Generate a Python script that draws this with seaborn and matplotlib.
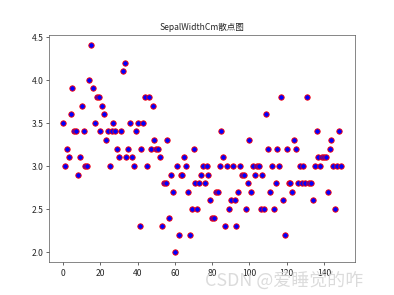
import matplotlib
matplotlib.use("Agg")
import matplotlib.pyplot as plt
import seaborn as sns
import pandas as pd

sepal_width = [
    3.5, 3.0, 3.2, 3.1, 3.6, 3.9, 3.4, 3.4, 2.9, 3.1,
    3.7, 3.4, 3.0, 3.0, 4.0, 4.4, 3.9, 3.5, 3.8, 3.8,
    3.4, 3.7, 3.6, 3.3, 3.4, 3.0, 3.4, 3.5, 3.4, 3.2,
    3.1, 3.4, 4.1, 4.2, 3.1, 3.2, 3.5, 3.1, 3.0, 3.4,
    3.5, 2.3, 3.2, 3.5, 3.8, 3.0, 3.8, 3.2, 3.7, 3.3,
    3.2, 3.2, 3.1, 2.3, 2.8, 2.8, 3.3, 2.4, 2.9, 2.7,
    2.0, 3.0, 2.2, 2.9, 2.9, 3.1, 3.0, 2.7, 2.2, 2.5,
    3.2, 2.8, 2.5, 2.8, 2.9, 3.0, 2.8, 3.0, 2.9, 2.6,
    2.4, 2.4, 2.7, 2.7, 3.0, 3.4, 3.1, 2.3, 3.0, 2.5,
    2.6, 3.0, 2.6, 2.3, 2.7, 3.0, 2.9, 2.9, 2.5, 2.8,
    3.3, 2.7, 3.0, 2.9, 3.0, 3.0, 2.5, 2.9, 2.5, 3.6,
    3.2, 2.7, 3.0, 2.5, 2.8, 3.2, 3.0, 3.8, 2.6, 2.2,
    3.2, 2.8, 2.8, 2.7, 3.3, 3.2, 2.8, 3.0, 2.8, 3.0,
    2.8, 3.8, 2.8, 2.8, 2.6, 3.0, 3.4, 3.1, 3.0, 3.1,
    3.1, 3.1, 2.7, 3.2, 3.3, 3.0, 2.5, 3.0, 3.4, 3.0,
]
index = list(range(len(sepal_width)))
title = "SepalWidthCm散点图"
watermark = "CSDN @爱睡觉的咋"

sns.set_style("ticks")
plt.rcParams['font.family'] = ['Noto Sans CJK SC', 'DejaVu Sans']
plt.rcParams['axes.unicode_minus'] = False

df = pd.DataFrame({"idx": index, "SepalWidthCm": sepal_width})

fig, ax = plt.subplots(figsize=(6.4, 4.8), dpi=394 / 6.4)
sns.scatterplot(data=df, x="idx", y="SepalWidthCm", ax=ax,
                color="blue", edgecolor="red", linewidth=1.0, s=40)
ax.set_title(title, fontsize=10)
ax.set_xlabel("")
ax.set_ylabel("")
ax.set_yticks([2.0, 2.5, 3.0, 3.5, 4.0, 4.5])
ax.set_xticks(range(0, 141, 20))
for s in ax.spines.values():
    s.set_visible(True)
    s.set_color("#555555")
ax.tick_params(labelsize=10)

fig.text(0.52, 0.018, watermark, fontsize=21, color="#d8d8d8", alpha=0.9,
         ha="left", va="bottom")

fig.savefig("out.png", dpi=394 / 6.4)
